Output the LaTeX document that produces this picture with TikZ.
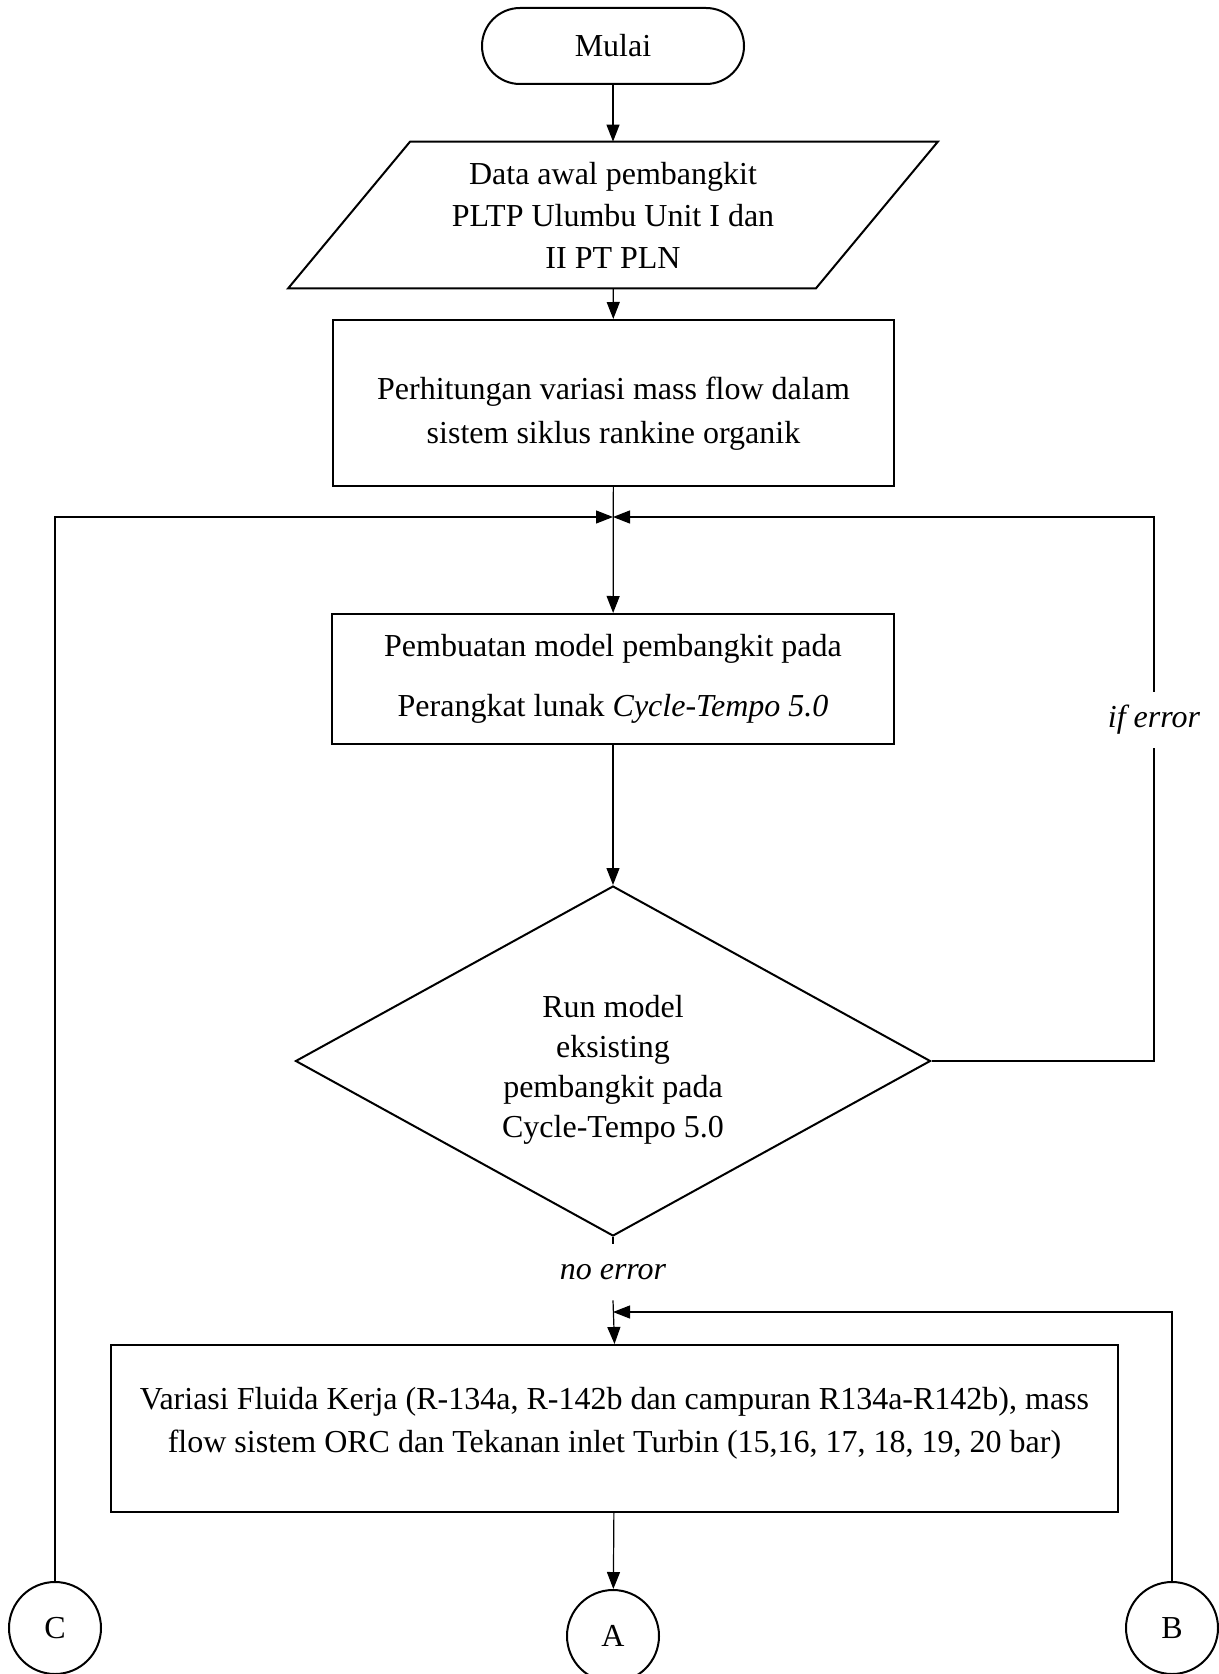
\documentclass[tikz,border=0pt]{standalone}
\usepackage{fontspec}
\setmainfont{Liberation Serif}
\usetikzlibrary{arrows.meta,shapes.geometric,calc}

\begin{document}
\begin{tikzpicture}[x=0.5pt,y=-0.5pt,
  every node/.style={align=center, inner sep=0pt,
    font=\fontsize{16}{21}\selectfont},
  outline/.style={draw, line width=1pt},
  conn/.style={line width=0.6pt},
  arr/.style={conn, -{Triangle[length=8.5pt,width=6.5pt]}},
  terminal/.style={outline, rounded corners=19pt, minimum width=131pt, minimum height=38pt},
  procbox/.style={outline, rectangle},
  decision/.style={outline, diamond, aspect=1.8, minimum width=317.5pt, minimum height=175pt},
  connector/.style={outline, circle, minimum size=46pt},
  branchlabel/.style={font=\fontsize{16}{21}\selectfont\itshape, minimum height=28pt}
]
\useasboundingbox (0,0) rectangle (1219,1674);

% start terminal
\node[terminal] (start) at (613,46) {Mulai};

% input parallelogram: the node holds the text, the slanted outline is drawn around it
\node[minimum width=263.5pt, minimum height=73pt] (data) at (613,215)
  {Data awal pembangkit\\PLTP Ulumbu Unit I dan\\II PT PLN};
\draw[outline] ($(data.north west)+(61,0)$) -- ($(data.north east)+(61,0)$)
  -- ($(data.south east)+(-61,0)$) -- ($(data.south west)+(-61,0)$) -- cycle;

% process boxes with their text
\node[procbox, minimum width=280.5pt, minimum height=83pt] (calc) at (613.5,403) {};
\node[font=\fontsize{16}{22}\selectfont] (calctext) at (613.5,414)
  {Perhitungan variasi mass flow dalam\\sistem siklus rankine organik};

\node[procbox, minimum width=281pt, minimum height=65pt] (model) at (613,679) {};
\node[font=\fontsize{16}{30}\selectfont] (modeltext) at (613,679)
  {Pembuatan model pembangkit pada\\Perangkat lunak \textit{Cycle-Tempo 5.0}};

% decision
\node[decision] (run) at (613,1061) {};
\node[font=\fontsize{16}{20}\selectfont] (runtext) at (613,1070)
  {Run model\\eksisting\\pembangkit pada\\Cycle-Tempo 5.0};

\node[procbox, minimum width=503.5pt, minimum height=83.5pt] (var) at (614.5,1428.5) {};
\node[font=\fontsize{16}{21.5}\selectfont] (vartext) at (614.5,1423)
  {Variasi Fluida Kerja (R-134a, R-142b dan campuran R134a-R142b), mass\\
   flow sistem ORC dan Tekanan inlet Turbin (15,16, 17, 18, 19, 20 bar)};

% off-page connectors
\node[connector] (C) at (55,1628) {C};
\node[connector] (A) at (613,1636) {A};
\node[connector] (B) at (1172,1628) {B};

% branch labels
\node[branchlabel] (iferr) at (1154,720) {if error};
\node[branchlabel] (noerr) at (613,1272) {no error};

% junction points on the main column
\coordinate (j1) at (613,517);
\coordinate (j2) at (613,1312);

% connectors
\draw[arr] (start) -- (data);
\draw[arr] (data) -- (calc);
\draw[arr] (calc) -- (model);
\draw[arr] (model) -- (run);
\draw[arr] (C) |- (j1);
\draw[conn] (run.east) -| (iferr.south);
\draw[arr] (iferr.north) |- (j1);
\draw[conn] (run.south) -- (noerr.north);
\draw[arr] (noerr.south) -- (var.north);
\draw[arr] (B) |- (j2);
\draw[arr] (var) -- (A);
\end{tikzpicture}
\end{document}
